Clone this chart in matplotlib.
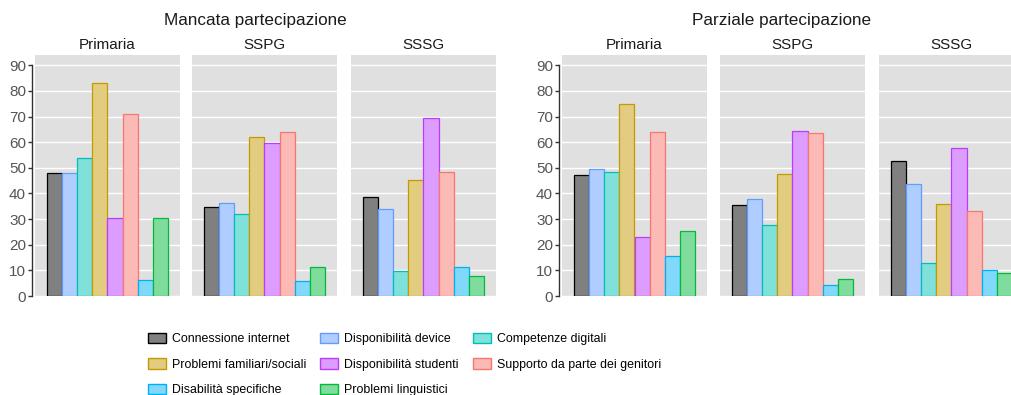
import matplotlib
matplotlib.use("Agg")
import matplotlib.pyplot as plt
from matplotlib.patches import Patch

plt.rcParams['font.family'] = ['Liberation Sans', 'DejaVu Sans']

categories = ["Connessione internet", "Disponibilità device", "Competenze digitali",
              "Problemi familiari/sociali", "Disponibilità studenti",
              "Supporto da parte dei genitori", "Disabilità specifiche",
              "Problemi linguistici"]
groups = ["Mancata partecipazione", "Parziale partecipazione"]
schools = ["Primaria", "SSPG", "SSSG"]

mancata_primaria = [47.8, 47.8, 53.9, 83.1, 30.6, 70.8, 6.1, 30.6]
mancata_sspg = [34.7, 36.4, 31.9, 62.2, 59.5, 63.9, 5.7, 11.4]
mancata_sssg = [38.7, 33.9, 9.6, 45.1, 69.5, 48.4, 11.3, 7.8]
parziale_primaria = [47.1, 49.5, 48.3, 74.7, 22.9, 63.9, 15.5, 25.3]
parziale_sspg = [35.6, 37.7, 27.8, 47.7, 64.5, 63.4, 4.3, 6.5]
parziale_sssg = [52.5, 43.5, 12.7, 36.0, 57.7, 33.2, 10.1, 8.8]

data = [[mancata_primaria, mancata_sspg, mancata_sssg],
        [parziale_primaria, parziale_sspg, parziale_sssg]]

fills = ["#808080", "#B0CDFF", "#80E0DA", "#E2CC80", "#DC9DFF", "#FBBAB6", "#80D8FA", "#80DC9C"]
edges = ["#000000", "#619CFF", "#00BFB5", "#C49A00", "#B93CFF", "#F8766D", "#00B0F6", "#00BA38"]

W, H = 1012, 395
fig = plt.figure(figsize=(W / 100, H / 100), dpi=100)

lefts = [[35, 192, 351], [562, 720, 879]]
pw = 145
top, bottom = 55, 296
title_x = [255, 782]

for g in range(2):
    for s in range(3):
        l = lefts[g][s]
        ax = fig.add_axes([l / W, (H - bottom) / H, pw / W, (bottom - top) / H])
        ax.set_facecolor("#E0E0E0")
        vals = data[g][s]
        x = list(range(len(vals)))
        ax.bar(x, vals, width=1.0, color=fills, edgecolor=edges, linewidth=0.9, zorder=3)
        ax.set_xlim(-1.3, 8.3)
        ax.set_ylim(0, 94)
        ax.set_yticks(range(0, 91, 10))
        ax.yaxis.grid(True, color="white", linewidth=1.0, zorder=0)
        ax.set_axisbelow(True)
        ax.set_xticks([])
        for sp in ["top", "right", "bottom"]:
            ax.spines[sp].set_visible(False)
        if s == 0:
            ax.spines["left"].set_color("#333333")
            ax.spines["left"].set_linewidth(1.0)
            ax.spines["left"].set_bounds(0, 90)
            ax.spines["left"].set_position(("outward", 2))
            ax.tick_params(axis="y", length=3, width=1.0, color="#333333",
                           labelsize=11, labelcolor="#555555", pad=1.5)
        else:
            ax.spines["left"].set_visible(False)
            ax.tick_params(axis="y", length=0, labelleft=False)
        fig.text((l + pw / 2) / W, 1 - 45 / H, schools[s], ha="center", va="center",
                 fontsize=11, color="#1a1a1a")
    fig.text(title_x[g] / W, 1 - 21 / H, groups[g], ha="center", va="center",
             fontsize=12.3, color="#1a1a1a")

handles = [Patch(facecolor=fills[i], edgecolor=edges[i], linewidth=1.0) for i in range(8)]
order = [0, 3, 6, 1, 4, 7, 2, 5]
leg = fig.legend([handles[i] for i in order], [categories[i] for i in order],
                 ncol=3, loc="upper left", bbox_to_anchor=(148 / W, 1 - 333 / H),
                 frameon=False, fontsize=8.9,
                 handlelength=1.47, handleheight=0.9,
                 handletextpad=0.48, columnspacing=1.12, labelspacing=1.05,
                 borderaxespad=0, borderpad=0)

fig.savefig("out.png", dpi=100)
